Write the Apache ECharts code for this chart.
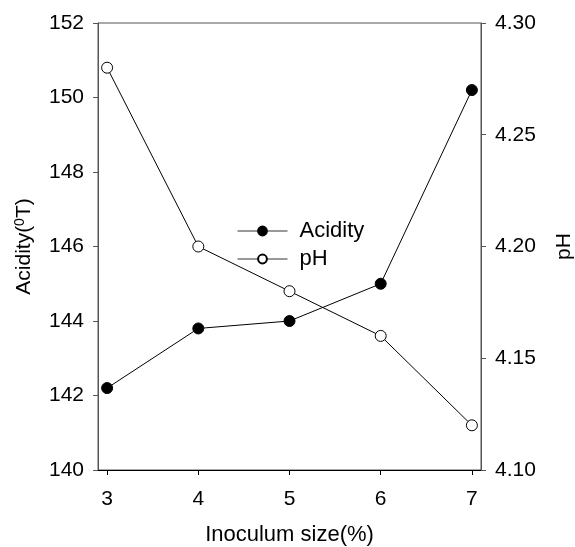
<!DOCTYPE html>
<html>
<head>
<meta charset="utf-8">
<script src="https://cdn.jsdelivr.net/npm/echarts@6/dist/echarts.min.js"></script>
<style>
  html, body { margin: 0; padding: 0; background: #fff; }
  #chart { width: 575px; height: 547px; }
</style>
</head>
<body>
<div id="chart"></div>
<script>
// values
const inoculum = [3, 4, 5, 6, 7];
const acidity = [142.2, 143.8, 144.0, 145.0, 150.2];
const ph = [4.28, 4.20, 4.18, 4.16, 4.12];
const xTicks = [3, 4, 5, 6, 7];

const font = 'Liberation Sans, Arial, sans-serif';

let myChart = echarts.init(document.getElementById('chart'));

const pair = (ys) => inoculum.map((x, i) => [x, ys[i]]);

const options = {
  animation: false,
  textStyle: { fontFamily: font, color: '#000' },
  grid: {
    left: 98, right: 94, top: 23, bottom: 77,
    outerBoundsMode: 'none',
    containLabel: false,
    show: true, borderColor: '#555', borderWidth: 1
  },
  legend: {
    orient: 'vertical',
    left: 237, top: 220,
    padding: 0,
    itemWidth: 50, itemHeight: 11, itemGap: 6,
    lineStyle: { width: 1, color: '#333' },
    textStyle: { fontSize: 22, fontFamily: font, color: '#000', padding: [0, 0, 0, 7] },
    data: ['Acidity', 'pH']
  },
  xAxis: {
    type: 'value',
    min: 2.9, max: 7.1,
    name: 'Inoculum size(%)',
    nameLocation: 'middle',
    nameGap: 54,
    nameTextStyle: { fontSize: 22, fontFamily: font, color: '#000' },
    splitLine: { show: false },
    axisLine: { lineStyle: { color: '#000', width: 1 } },
    axisTick: { customValues: xTicks, length: 5, lineStyle: { color: '#000' } },
    axisLabel: { customValues: xTicks, fontSize: 21, margin: 19, color: '#000' }
  },
  yAxis: [
    {
      type: 'value',
      min: 140, max: 152, interval: 2,
      name: 'Acidity({sup|0}T)',
      nameLocation: 'middle',
      nameGap: 63,
      nameRotate: 90,
      nameTextStyle: {
        fontSize: 21, fontFamily: font, color: '#000',
        rich: { sup: { fontSize: 14, verticalAlign: 'top', padding: [0, 0, 8, 0], fontFamily: font, color: '#000' } }
      },
      splitLine: { show: false },
      axisLine: { show: true, lineStyle: { color: '#555', width: 1 } },
      axisTick: { show: true, length: 5, lineStyle: { color: '#555' } },
      axisLabel: { fontSize: 21, margin: 14, color: '#000' }
    },
    {
      type: 'value',
      min: 4.10, max: 4.30, interval: 0.05,
      position: 'right',
      name: 'pH',
      nameLocation: 'middle',
      nameGap: 73,
      nameRotate: 90,
      nameTextStyle: { fontSize: 21, fontFamily: font, color: '#000' },
      splitLine: { show: false },
      axisLine: { show: true, lineStyle: { color: '#555', width: 1 } },
      axisTick: { show: true, length: 5, lineStyle: { color: '#555' } },
      axisLabel: { fontSize: 21, margin: 14, color: '#000', formatter: v => v.toFixed(2) }
    }
  ],
  series: [
    {
      name: 'Acidity',
      type: 'line',
      yAxisIndex: 0,
      data: pair(acidity),
      symbol: 'circle',
      symbolSize: 11,
      lineStyle: { color: '#000', width: 1 },
      itemStyle: { color: '#000', borderColor: '#000', borderWidth: 1 }
    },
    {
      name: 'pH',
      type: 'line',
      yAxisIndex: 1,
      data: pair(ph),
      symbol: 'circle',
      symbolSize: 11,
      lineStyle: { color: '#000', width: 1 },
      itemStyle: { color: '#fff', borderColor: '#000', borderWidth: 1 }
    }
  ]
};

myChart.setOption(options);
</script>
</body>
</html>
